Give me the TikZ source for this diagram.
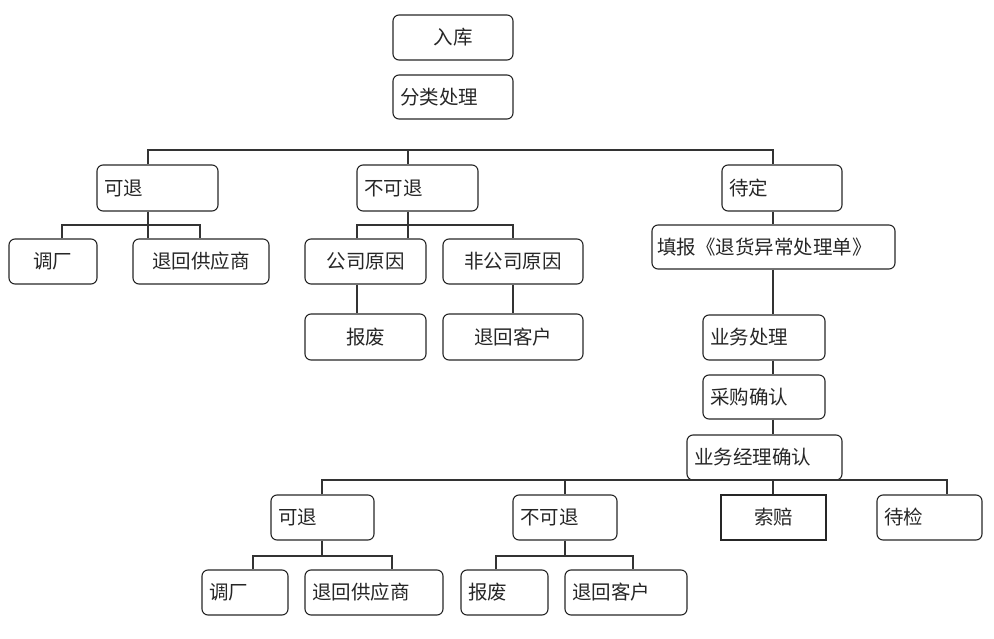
\documentclass[tikz,border=0pt]{standalone}
\usepackage{fontspec}
\newfontfamily\cjk{Noto Sans CJK SC}
\begin{document}
\begin{tikzpicture}[x=1pt,y=-1pt,
  base/.style={draw=black!85, line width=1.1pt, inner ysep=0pt,
    font=\cjk\fontsize{19.5}{22}\selectfont, minimum height=45pt, text=black!85},
  cbox/.style={base, rounded corners=6pt, inner xsep=0pt, align=center},
  sbox/.style={base, inner xsep=0pt, align=center},
  lbox/.style={base, rounded corners=6pt, inner xsep=7pt, align=left},
  conn/.style={draw=black!80, line width=1.1pt}]
\useasboundingbox (0,0) rectangle (994,639);

% top
\node[cbox, minimum width=120pt] (ruku) at (453,37.5) {入库};
\node[lbox, text width=106pt, minimum height=44pt] (fenlei) at (453,97) {分类处理};

% level 1
\node[lbox, text width=107pt, minimum height=46pt] (kt) at (157.5,188) {可退};
\node[lbox, text width=107pt, minimum height=46pt] (bkt) at (417.5,188) {不可退};
\node[lbox, text width=106pt, minimum height=46pt] (dd) at (782,188) {待定};

% 可退 subtree
\node[cbox, minimum width=88pt] (tc) at (53,261.5) {调厂};
\node[cbox, minimum width=136pt] (thgys) at (201,261.5) {退回供应商};

% 不可退 subtree
\node[cbox, minimum width=121pt] (gsyy) at (365.5,261.5) {公司原因};
\node[cbox, minimum width=140pt] (fgsyy) at (513,261.5) {非公司原因};
\node[cbox, minimum width=121pt, minimum height=46pt] (bf) at (365.5,337) {报废};
\node[cbox, minimum width=140pt, minimum height=46pt] (thkh) at (513,337) {退回客户};

% 待定 chain
\node[lbox, minimum height=44pt, inner xsep=5pt, text width=233pt] (tb) at (773.5,247) {填报《退货异常处理单》};
\node[lbox, text width=108pt] (ywcl) at (764,337.5) {业务处理};
\node[lbox, text width=108pt, minimum height=44pt] (cgqr) at (764,397) {采购确认};
\node[lbox, text width=141pt] (ywjl) at (764.5,457.5) {业务经理确认};

% level 2
\node[lbox, text width=89pt] (kt2) at (322.5,517.5) {可退};
\node[lbox, text width=90pt] (bkt2) at (565,517.5) {不可退};
\node[sbox, minimum width=105pt] (sp) at (773.5,517.5) {索赔};
\node[lbox, text width=91pt] (dj) at (929.5,517.5) {待检};

\node[lbox, text width=72pt] (tc2) at (245,592.5) {调厂};
\node[lbox, text width=124pt] (thgys2) at (374,592.5) {退回供应商};
\node[lbox, text width=73pt] (bf2) at (504.5,592.5) {报废};
\node[lbox, text width=108pt] (thkh2) at (626,592.5) {退回客户};

% bus coordinates
\coordinate (b1) at (148,150);
\coordinate (b2) at (408,150);
\coordinate (b3) at (773,150);
\coordinate (k1) at (62,225);
\coordinate (k2) at (200,225);
\coordinate (k3) at (357,225);
\coordinate (k4) at (513,225);
\coordinate (r1) at (322,480);
\coordinate (r2) at (565,480);
\coordinate (r3) at (773,480);
\coordinate (r4) at (947,480);
\coordinate (s1) at (253,556);
\coordinate (s2) at (392,556);
\coordinate (s3) at (496,556);
\coordinate (s4) at (633,556);

% level 1 bus
\draw[conn] (kt.north -| b1) -- (b1) -- (b3) -- (dd.north -| b3);
\draw[conn] (b2) -- (bkt.north -| b2);

% 可退 subtree
\draw[conn] (kt.south -| b1) -- (thgys.north -| b1);
\draw[conn] (tc.north -| k1) -- (k1) -- (k2) -- (thgys.north -| k2);

% 不可退 subtree
\draw[conn] (bkt.south -| b2) -- (gsyy.north -| b2);
\draw[conn] (gsyy.north -| k3) -- (k3) -- (k4) -- (fgsyy.north -| k4);
\draw[conn] (gsyy.south -| k3) -- (bf.north -| k3);
\draw[conn] (fgsyy.south -| k4) -- (thkh.north -| k4);

% 待定 chain
\draw[conn] (dd.south -| b3) -- (tb.north -| b3);
\draw[conn] (tb.south -| b3) -- (ywcl.north -| b3);
\draw[conn] (ywcl.south -| b3) -- (cgqr.north -| b3);
\draw[conn] (cgqr.south -| b3) -- (ywjl.north -| b3);

% level 2 bus
\draw[conn] (kt2.north -| r1) -- (r1) -- (r4) -- (dj.north -| r4);
\draw[conn] (r2) -- (bkt2.north -| r2);
\draw[conn] (ywjl.south -| r3) -- (sp.north -| r3);

% level 2 subtrees
\draw[conn] (kt2.south -| r1) -- (r1 |- s1);
\draw[conn] (tc2.north -| s1) -- (s1) -- (s2) -- (thgys2.north -| s2);
\draw[conn] (bkt2.south -| r2) -- (r2 |- s3);
\draw[conn] (bf2.north -| s3) -- (s3) -- (s4) -- (thkh2.north -| s4);
\end{tikzpicture}
\end{document}
